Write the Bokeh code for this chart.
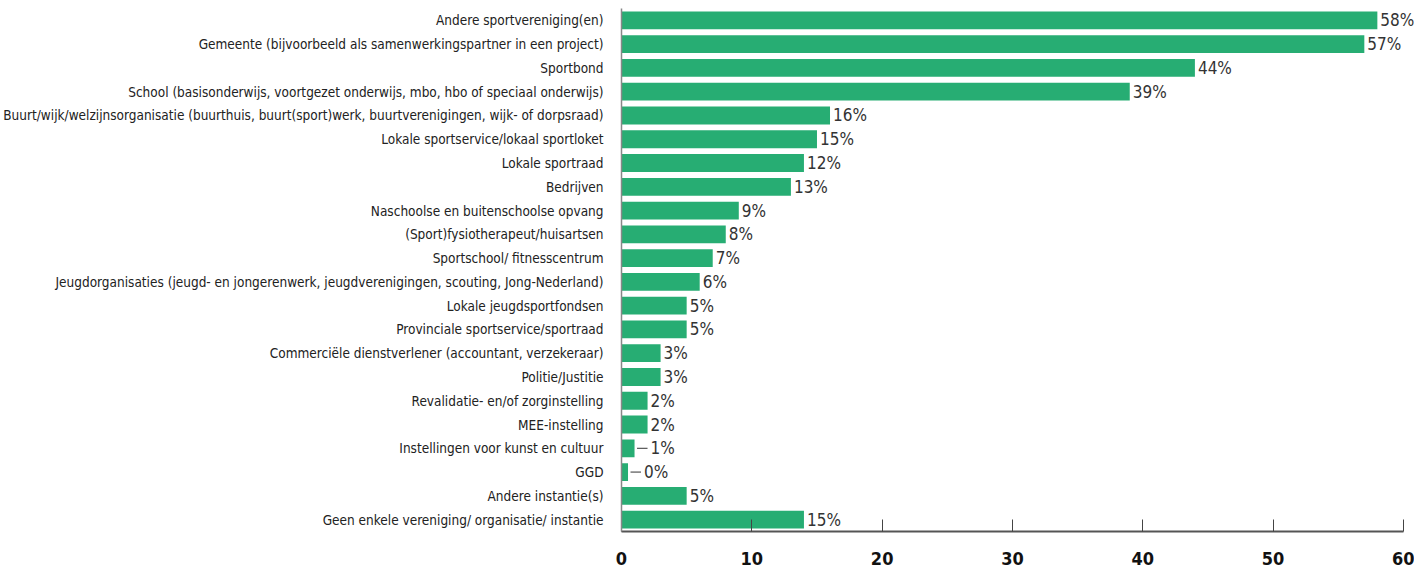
from bokeh.plotting import figure
from bokeh.models import Range1d, FactorRange, ColumnDataSource, FixedTicker, LabelSet
from bokeh.core.properties import value
from bokeh.embed import file_html
from bokeh.resources import INLINE

categories = [
    "Andere sportvereniging(en)",
    "Gemeente (bijvoorbeeld als samenwerkingspartner in een project)",
    "Sportbond",
    "School (basisonderwijs, voortgezet onderwijs, mbo, hbo of speciaal onderwijs)",
    "Buurt/wijk/welzijnsorganisatie (buurthuis, buurt(sport)werk, buurtverenigingen, wijk- of dorpsraad)",
    "Lokale sportservice/lokaal sportloket",
    "Lokale sportraad",
    "Bedrijven",
    "Naschoolse en buitenschoolse opvang",
    "(Sport)fysiotherapeut/huisartsen",
    "Sportschool/ fitnesscentrum",
    "Jeugdorganisaties (jeugd- en jongerenwerk, jeugdverenigingen, scouting, Jong-Nederland)",
    "Lokale jeugdsportfondsen",
    "Provinciale sportservice/sportraad",
    "Commerciële dienstverlener (accountant, verzekeraar)",
    "Politie/Justitie",
    "Revalidatie- en/of zorginstelling",
    "MEE-instelling",
    "Instellingen voor kunst en cultuur",
    "GGD",
    "Andere instantie(s)",
    "Geen enkele vereniging/ organisatie/ instantie",
]
bar_values = [58, 57, 44, 39, 16, 15, 14, 13, 9, 8, 7, 6, 5, 5, 3, 3, 2, 2, 1, 0.5, 5, 14]
value_labels = ["58%", "57%", "44%", "39%", "16%", "15%", "12%", "13%", "9%", "8%", "7%",
                "6%", "5%", "5%", "3%", "3%", "2%", "2%", "1%", "0%", "5%", "15%"]
x_ticks = [0, 10, 20, 30, 40, 50, 60]

FONT = "DejaVu Sans Condensed"
GREEN = "#27ad73"

p = figure(width=1414, height=567, output_backend="svg", toolbar_location=None,
           x_range=Range1d(0, 60.85), y_range=FactorRange(factors=categories[::-1], range_padding=0),
           min_border_top=8, min_border_bottom=0, min_border_right=0, min_border_left=0)
p.outline_line_color = None
p.grid.visible = False

src = ColumnDataSource(dict(cat=categories, v=bar_values, lab=value_labels))
p.hbar(y="cat", right="v", left=0, height=0.75, source=src, fill_color=GREEN, line_color=None)

ppu = 782 / 60.0
lead_x0, lead_x1, lead_y, lab_x, lab_y, lab_t, lab_off = [], [], [], [], [], [], []
for c, v, t in zip(categories, bar_values, value_labels):
    if v < 1.5:
        lead_x0.append(v + 2.5 / ppu)
        lead_x1.append(v + 13 / ppu)
        lead_y.append(c)
        lab_x.append(v + 13 / ppu)
        lab_off.append(3)
    else:
        lab_x.append(v)
        lab_off.append(3)
    lab_y.append(c)
    lab_t.append(t)

p.segment(x0=lead_x0, x1=lead_x1, y0=lead_y, y1=lead_y, line_color="#333333", line_width=1)
lsrc = ColumnDataSource(dict(x=lab_x, y=lab_y, t=lab_t, off=lab_off))
labels = LabelSet(x="x", y="y", text="t", x_offset="off", source=lsrc, text_baseline="middle",
                  text_align="left", text_font=value(FONT), text_font_size="17px",
                  text_color="#333333")
p.add_layout(labels)

xa = p.xaxis[0]
xa.ticker = FixedTicker(ticks=x_ticks)
xa.bounds = (0, 60)
xa.major_tick_in = 12
xa.major_tick_out = 0
xa.minor_tick_line_color = None
xa.axis_line_color = "#555555"
xa.axis_line_width = 2
xa.major_tick_line_color = "#444444"
xa.major_label_text_font = FONT
xa.major_label_text_font_style = "bold"
xa.major_label_text_font_size = "18px"
xa.major_label_text_color = "#111111"
xa.major_label_standoff = 20

ya = p.yaxis[0]
ya.axis_line_color = "#888888"
ya.axis_line_width = 1.5
ya.major_tick_line_color = None
ya.minor_tick_line_color = None
ya.major_label_text_font = FONT
ya.major_label_text_font_size = "13.5px"
ya.major_label_text_color = "#222222"
ya.major_label_standoff = 12

open("out.html", "w").write(file_html(p, INLINE))
